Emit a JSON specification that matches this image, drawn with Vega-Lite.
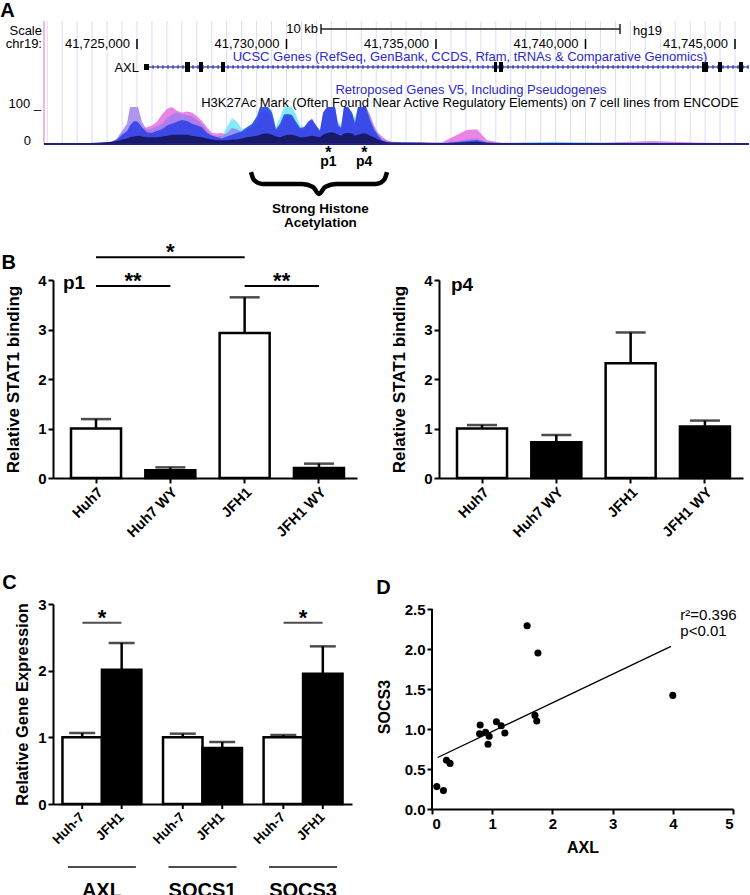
{
  "$schema": "https://vega.github.io/schema/vega-lite/v6.json",
  "background": "white",
  "padding": {"left": 0, "top": 0, "right": 0, "bottom": 0},
  "config": {
    "font": "Liberation Sans",
    "view": {"stroke": null},
    "axis": {"domainColor": "black", "domainWidth": 2, "tickColor": "black", "tickWidth": 2, "tickSize": 5, "labelColor": "black", "labelFont": "Liberation Sans", "labelFontWeight": "bold", "labelFontSize": 15, "labelPadding": 2, "titleFont": "Liberation Sans", "titleFontWeight": "bold", "titleFontSize": 17, "titleColor": "black", "grid": false},
    "title": {"font": "Liberation Sans", "fontSize": 20, "fontWeight": "bold", "anchor": "start", "color": "black", "offset": 0},
    "text": {"font": "Liberation Sans", "color": "black"}
  },
  "datasets": {
    "one": [{}],
    "sig": [
      {"p":41721890,"pk":0,"cy":0,"pu":0,"bl":1,"nv":1},
      {"p":41722492,"pk":2,"cy":1,"pu":1,"bl":1,"nv":1},
      {"p":41723161,"pk":1,"cy":0,"pu":1,"bl":1,"nv":2},
      {"p":41723829,"pk":2,"cy":1,"pu":3,"bl":3,"nv":4},
      {"p":41724164,"pk":4,"cy":2,"pu":6,"bl":6,"nv":6},
      {"p":41724331,"pk":8,"cy":3,"pu":15,"bl":12,"nv":8},
      {"p":41724498,"pk":15,"cy":5,"pu":35,"bl":25,"nv":12},
      {"p":41724666,"pk":20,"cy":8,"pu":55,"bl":35,"nv":15},
      {"p":41724766,"pk":30,"cy":10,"pu":100,"bl":50,"nv":18},
      {"p":41724900,"pk":35,"cy":10,"pu":100,"bl":62,"nv":20},
      {"p":41725033,"pk":35,"cy":12,"pu":100,"bl":60,"nv":22},
      {"p":41725167,"pk":40,"cy":12,"pu":60,"bl":45,"nv":20},
      {"p":41725334,"pk":45,"cy":15,"pu":38,"bl":32,"nv":18},
      {"p":41725502,"pk":50,"cy":15,"pu":42,"bl":30,"nv":18},
      {"p":41725669,"pk":60,"cy":18,"pu":48,"bl":35,"nv":18},
      {"p":41725836,"pk":80,"cy":20,"pu":55,"bl":40,"nv":20},
      {"p":41726003,"pk":95,"cy":22,"pu":70,"bl":50,"nv":22},
      {"p":41726171,"pk":100,"cy":25,"pu":80,"bl":55,"nv":25},
      {"p":41726338,"pk":90,"cy":25,"pu":85,"bl":60,"nv":25},
      {"p":41726505,"pk":85,"cy":30,"pu":80,"bl":65,"nv":25},
      {"p":41726672,"pk":88,"cy":28,"pu":78,"bl":62,"nv":25},
      {"p":41726839,"pk":85,"cy":25,"pu":75,"bl":55,"nv":22},
      {"p":41727007,"pk":75,"cy":22,"pu":65,"bl":50,"nv":20},
      {"p":41727174,"pk":62,"cy":20,"pu":55,"bl":45,"nv":18},
      {"p":41727341,"pk":45,"cy":15,"pu":35,"bl":30,"nv":15},
      {"p":41727508,"pk":30,"cy":12,"pu":25,"bl":22,"nv":12},
      {"p":41727676,"pk":28,"cy":12,"pu":20,"bl":18,"nv":10},
      {"p":41727843,"pk":30,"cy":20,"pu":22,"bl":15,"nv":10},
      {"p":41728010,"pk":25,"cy":45,"pu":30,"bl":20,"nv":10},
      {"p":41728177,"pk":20,"cy":70,"pu":43,"bl":25,"nv":12},
      {"p":41728345,"pk":22,"cy":60,"pu":40,"bl":30,"nv":12},
      {"p":41728512,"pk":15,"cy":40,"pu":30,"bl":35,"nv":15},
      {"p":41728679,"pk":15,"cy":45,"pu":40,"bl":45,"nv":18},
      {"p":41728846,"pk":15,"cy":55,"pu":45,"bl":54,"nv":20},
      {"p":41729013,"pk":15,"cy":75,"pu":60,"bl":75,"nv":22},
      {"p":41729114,"pk":18,"cy":100,"pu":80,"bl":100,"nv":25},
      {"p":41729248,"pk":20,"cy":100,"pu":90,"bl":100,"nv":28},
      {"p":41729381,"pk":20,"cy":100,"pu":85,"bl":100,"nv":28},
      {"p":41729515,"pk":18,"cy":90,"pu":70,"bl":85,"nv":25},
      {"p":41729649,"pk":15,"cy":45,"pu":35,"bl":40,"nv":20},
      {"p":41729783,"pk":15,"cy":70,"pu":45,"bl":55,"nv":18},
      {"p":41729916,"pk":18,"cy":100,"pu":70,"bl":80,"nv":22},
      {"p":41730050,"pk":20,"cy":100,"pu":75,"bl":81,"nv":25},
      {"p":41730184,"pk":20,"cy":100,"pu":70,"bl":78,"nv":25},
      {"p":41730318,"pk":18,"cy":80,"pu":55,"bl":60,"nv":22},
      {"p":41730452,"pk":15,"cy":50,"pu":40,"bl":43,"nv":18},
      {"p":41730585,"pk":15,"cy":45,"pu":40,"bl":45,"nv":18},
      {"p":41730719,"pk":18,"cy":55,"pu":55,"bl":60,"nv":20},
      {"p":41730853,"pk":20,"cy":60,"pu":65,"bl":68,"nv":22},
      {"p":41730987,"pk":18,"cy":50,"pu":50,"bl":50,"nv":20},
      {"p":41731120,"pk":15,"cy":40,"pu":35,"bl":35,"nv":18},
      {"p":41731221,"pk":20,"cy":70,"pu":80,"bl":85,"nv":25},
      {"p":41731355,"pk":25,"cy":100,"pu":100,"bl":100,"nv":30},
      {"p":41731488,"pk":25,"cy":100,"pu":100,"bl":100,"nv":32},
      {"p":41731622,"pk":22,"cy":100,"pu":100,"bl":100,"nv":30},
      {"p":41731722,"pk":20,"cy":60,"pu":55,"bl":50,"nv":25},
      {"p":41731823,"pk":20,"cy":50,"pu":45,"bl":43,"nv":22},
      {"p":41731923,"pk":25,"cy":100,"pu":100,"bl":100,"nv":28},
      {"p":41732057,"pk":25,"cy":100,"pu":100,"bl":100,"nv":30},
      {"p":41732191,"pk":25,"cy":85,"pu":80,"bl":85,"nv":28},
      {"p":41732291,"pk":28,"cy":70,"pu":60,"bl":55,"nv":22},
      {"p":41732391,"pk":40,"cy":100,"pu":100,"bl":100,"nv":25},
      {"p":41732525,"pk":45,"cy":100,"pu":100,"bl":100,"nv":28},
      {"p":41732659,"pk":45,"cy":100,"pu":100,"bl":100,"nv":28},
      {"p":41732793,"pk":40,"cy":70,"pu":80,"bl":65,"nv":22},
      {"p":41732926,"pk":38,"cy":45,"pu":50,"bl":40,"nv":18},
      {"p":41733060,"pk":30,"cy":25,"pu":30,"bl":22,"nv":12},
      {"p":41733194,"pk":20,"cy":12,"pu":15,"bl":10,"nv":8},
      {"p":41733361,"pk":10,"cy":6,"pu":8,"bl":5,"nv":5},
      {"p":41733528,"pk":6,"cy":4,"pu":5,"bl":4,"nv":4},
      {"p":41733863,"pk":5,"cy":3,"pu":4,"bl":4,"nv":3},
      {"p":41734532,"pk":4,"cy":3,"pu":3,"bl":3,"nv":3},
      {"p":41735201,"pk":4,"cy":3,"pu":3,"bl":2,"nv":2},
      {"p":41735702,"pk":25,"cy":5,"pu":8,"bl":5,"nv":4},
      {"p":41736037,"pk":38,"cy":6,"pu":12,"bl":8,"nv":5},
      {"p":41736371,"pk":40,"cy":8,"pu":15,"bl":10,"nv":6},
      {"p":41736706,"pk":10,"cy":4,"pu":5,"bl":4,"nv":3},
      {"p":41737207,"pk":3,"cy":2,"pu":2,"bl":2,"nv":2},
      {"p":41738880,"pk":4,"cy":6,"pu":3,"bl":2,"nv":2},
      {"p":41740552,"pk":3,"cy":3,"pu":2,"bl":2,"nv":2},
      {"p":41742224,"pk":8,"cy":3,"pu":3,"bl":2,"nv":2},
      {"p":41743896,"pk":3,"cy":2,"pu":2,"bl":2,"nv":2},
      {"p":41745468,"pk":2,"cy":2,"pu":2,"bl":2,"nv":2}
    ],
    "grid": [
      {"g":41722000},{"g":41722500},{"g":41723000},{"g":41723500},{"g":41724000},{"g":41724500},{"g":41725000},{"g":41725500},{"g":41726000},{"g":41726500},{"g":41727000},{"g":41727500},{"g":41728000},{"g":41728500},{"g":41729000},{"g":41729500},{"g":41730000},{"g":41730500},{"g":41731000},{"g":41731500},{"g":41732000},{"g":41732500},{"g":41733000},{"g":41733500},{"g":41734000},{"g":41734500},{"g":41735000},{"g":41735500},{"g":41736000},{"g":41736500},{"g":41737000},{"g":41737500},{"g":41738000},{"g":41738500},{"g":41739000},{"g":41739500},{"g":41740000},{"g":41740500},{"g":41741000},{"g":41741500},{"g":41742000},{"g":41742500},{"g":41743000},{"g":41743500},{"g":41744000},{"g":41744500},{"g":41745000}
    ]
  },
  "spacing": 10,
  "vconcat": [
    {
      "width": 696,
      "height": 210,
      "title": {"text": "A", "dx": -5.5, "offset": -0.5},
      "layer": [
        {"data": {"name": "grid"}, "mark": {"type": "rule", "color": "#dcdcf5", "strokeWidth": 1},
         "encoding": {"x": {"field": "g", "type": "quantitative", "scale": {"domain": [41722191, 41745468], "nice": false, "zero": false}, "axis": null},
                      "y": {"datum": 0, "type": "quantitative", "scale": {"domain": [-235.2, 332.4], "nice": false, "zero": false}, "axis": null},
                      "y2": {"datum": 332.4}}},
        {"data": {"name": "one"}, "mark": {"type": "rule", "color": "#f2a2c8", "strokeWidth": 1.5},
         "encoding": {"x": {"datum": 41721890, "type": "quantitative", "axis": null}, "y": {"datum": 0, "type": "quantitative", "axis": null}, "y2": {"datum": 332.4}}},
        {"data": {"name": "sig"}, "mark": {"type": "area", "color": "#e870e0", "opacity": 0.85},
         "encoding": {"x": {"field": "p", "type": "quantitative", "axis": null}, "y": {"field": "pk", "type": "quantitative", "axis": null}, "y2": {"datum": 0}}},
        {"data": {"name": "sig"}, "mark": {"type": "area", "color": "#6ee6f8", "opacity": 0.85},
         "encoding": {"x": {"field": "p", "type": "quantitative", "axis": null}, "y": {"field": "cy", "type": "quantitative", "axis": null}, "y2": {"datum": 0}}},
        {"data": {"name": "sig"}, "mark": {"type": "area", "color": "#9a7cee", "opacity": 0.8},
         "encoding": {"x": {"field": "p", "type": "quantitative", "axis": null}, "y": {"field": "pu", "type": "quantitative", "axis": null}, "y2": {"datum": 0}}},
        {"data": {"name": "sig"}, "mark": {"type": "area", "color": "#2a3ee6", "opacity": 0.85},
         "encoding": {"x": {"field": "p", "type": "quantitative", "axis": null}, "y": {"field": "bl", "type": "quantitative", "axis": null}, "y2": {"datum": 0}}},
        {"data": {"name": "sig"}, "mark": {"type": "area", "color": "#15155a", "opacity": 0.9},
         "encoding": {"x": {"field": "p", "type": "quantitative", "axis": null}, "y": {"field": "nv", "type": "quantitative", "axis": null}, "y2": {"datum": 0}}},
        {"data": {"name": "one"}, "mark": {"type": "rule", "color": "#20208a", "strokeWidth": 2},
         "encoding": {"x": {"datum": 41721890, "type": "quantitative", "axis": null}, "x2": {"datum": 41745468}, "y": {"datum": 0, "type": "quantitative", "axis": null}}},
        {"data": {"name": "one"}, "mark": {"type": "rule", "color": "#8e8ef2", "strokeWidth": 4, "strokeDash": [2, 3]},
         "encoding": {"x": {"datum": 41725334, "type": "quantitative", "axis": null}, "x2": {"datum": 41745468}, "y": {"datum": 208.1, "type": "quantitative", "axis": null}}},
        {"data": {"name": "one"}, "mark": {"type": "rule", "color": "#10107a", "strokeWidth": 1},
         "encoding": {"x": {"datum": 41725334, "type": "quantitative", "axis": null}, "x2": {"datum": 41745468}, "y": {"datum": 208.1, "type": "quantitative", "axis": null}}},
        {"data": {"name": "one"}, "mark": {"type": "rect", "color": "black"},
         "encoding": {"x": {"datum": 41725234, "type": "quantitative", "axis": null}, "x2": {"datum": 41725401}, "y": {"datum": 216.2, "type": "quantitative", "axis": null}, "y2": {"datum": 200.0}}},
        {"data": {"values": [{"s":41726605,"e":41726773},{"s":41727074,"e":41727207},{"s":41727809,"e":41727943},{"s":41736940,"e":41737040},{"s":41737107,"e":41737241},{"s":41743896,"e":41744097},{"s":41744432,"e":41744565},{"s":41745134,"e":41745268}]},
         "mark": {"type": "rect", "color": "black"},
         "encoding": {"x": {"field": "s", "type": "quantitative", "axis": null}, "x2": {"field": "e"}, "y": {"datum": 221.6, "type": "quantitative", "axis": null}, "y2": {"datum": 194.5}}},
        {"data": {"values": [{"c":41725000},{"c":41730000},{"c":41735000},{"c":41740000},{"c":41745000}]},
         "mark": {"type": "rule", "color": "black", "strokeWidth": 1.5},
         "encoding": {"x": {"field": "c", "type": "quantitative", "axis": null}, "y": {"datum": 256.7, "type": "quantitative", "axis": null}, "y2": {"datum": 283.8}}},
        {"data": {"values": [{"c":41725000},{"c":41730000},{"c":41735000},{"c":41740000},{"c":41745000}]},
         "mark": {"type": "text", "align": "right", "baseline": "middle", "dx": -7, "fontSize": 13},
         "encoding": {"x": {"field": "c", "type": "quantitative", "axis": null}, "y": {"datum": 270.2, "type": "quantitative", "axis": null}, "text": {"field": "c", "type": "quantitative", "format": ","}}},
        {"data": {"name": "one"}, "mark": {"type": "rule", "color": "#222222", "strokeWidth": 1.5},
         "encoding": {"x": {"datum": 41731154, "type": "quantitative", "axis": null}, "x2": {"datum": 41741154}, "y": {"datum": 310.8, "type": "quantitative", "axis": null}}},
        {"data": {"values": [{"e":41731154},{"e":41741154}]},
         "mark": {"type": "rule", "color": "#222222", "strokeWidth": 1.5},
         "encoding": {"x": {"field": "e", "type": "quantitative", "axis": null}, "y": {"datum": 297.3, "type": "quantitative", "axis": null}, "y2": {"datum": 324.3}}},
        {"data": {"name": "one"}, "mark": {"type": "text", "text": "Scale", "align": "right", "baseline": "middle", "fontSize": 13},
         "encoding": {"x": {"datum": 41721823, "type": "quantitative", "axis": null}, "y": {"datum": 305.4, "type": "quantitative", "axis": null}}},
        {"data": {"name": "one"}, "mark": {"type": "text", "text": "chr19:", "align": "right", "baseline": "middle", "fontSize": 13},
         "encoding": {"x": {"datum": 41721823, "type": "quantitative", "axis": null}, "y": {"datum": 270.2, "type": "quantitative", "axis": null}}},
        {"data": {"name": "one"}, "mark": {"type": "text", "text": "10 kb", "align": "right", "baseline": "middle", "fontSize": 13, "dx": -3},
         "encoding": {"x": {"datum": 41731154, "type": "quantitative", "axis": null}, "y": {"datum": 310.8, "type": "quantitative", "axis": null}}},
        {"data": {"name": "one"}, "mark": {"type": "text", "text": "hg19", "align": "left", "baseline": "middle", "fontSize": 13},
         "encoding": {"x": {"datum": 41741589, "type": "quantitative", "axis": null}, "y": {"datum": 305.4, "type": "quantitative", "axis": null}}},
        {"data": {"name": "one"}, "mark": {"type": "text", "text": "UCSC Genes (RefSeq, GenBank, CCDS, Rfam, tRNAs & Comparative Genomics)", "align": "center", "baseline": "middle", "fontSize": 13, "color": "#2b2bc9"},
         "encoding": {"x": {"datum": 41736137, "type": "quantitative", "axis": null}, "y": {"datum": 235.1, "type": "quantitative", "axis": null}}},
        {"data": {"name": "one"}, "mark": {"type": "text", "text": "AXL", "align": "right", "baseline": "middle", "fontSize": 13},
         "encoding": {"x": {"datum": 41725067, "type": "quantitative", "axis": null}, "y": {"datum": 205.4, "type": "quantitative", "axis": null}}},
        {"data": {"name": "one"}, "mark": {"type": "text", "text": "Retroposed Genes V5, Including Pseudogenes", "align": "center", "baseline": "middle", "fontSize": 13, "color": "#2b2bc9"},
         "encoding": {"x": {"datum": 41736170, "type": "quantitative", "axis": null}, "y": {"datum": 145.9, "type": "quantitative", "axis": null}}},
        {"data": {"name": "one"}, "mark": {"type": "text", "text": "H3K27Ac Mark (Often Found Near Active Regulatory Elements) on 7 cell lines from ENCODE", "align": "center", "baseline": "middle", "fontSize": 13},
         "encoding": {"x": {"datum": 41736137, "type": "quantitative", "axis": null}, "y": {"datum": 110.7, "type": "quantitative", "axis": null}}},
        {"data": {"name": "one"}, "mark": {"type": "text", "text": "100 _", "align": "right", "baseline": "middle", "fontSize": 13},
         "encoding": {"x": {"datum": 41721790, "type": "quantitative", "axis": null}, "y": {"datum": 108, "type": "quantitative", "axis": null}}},
        {"data": {"name": "one"}, "mark": {"type": "text", "text": "0", "align": "right", "baseline": "middle", "fontSize": 13},
         "encoding": {"x": {"datum": 41721455, "type": "quantitative", "axis": null}, "y": {"datum": 8.1, "type": "quantitative", "axis": null}}},
        {"data": {"values": [{"probe":"p1","pos":41731400},{"probe":"p4","pos":41732600}]},
         "mark": {"type": "text", "text": "*", "align": "center", "baseline": "alphabetic", "fontSize": 16, "fontWeight": "bold"},
         "encoding": {"x": {"field": "pos", "type": "quantitative", "axis": null}, "y": {"datum": -37, "type": "quantitative", "axis": null}}},
        {"data": {"values": [{"probe":"p1","pos":41731400},{"probe":"p4","pos":41732600}]},
         "mark": {"type": "text", "align": "center", "baseline": "alphabetic", "fontSize": 14, "fontWeight": "bold"},
         "encoding": {"x": {"field": "pos", "type": "quantitative", "axis": null}, "y": {"datum": -59.5, "type": "quantitative", "axis": null}, "text": {"field": "probe"}}},
        {"data": {"values": [{"bx":41728813,"by":-75.8},{"bx":41728913,"by":-97.4},{"bx":41729181,"by":-108.2},{"bx":41730519,"by":-108.2},{"bx":41730886,"by":-116.3},{"bx":41731087,"by":-135.2},{"bx":41731288,"by":-116.3},{"bx":41731656,"by":-108.2},{"bx":41732993,"by":-108.2},{"bx":41733261,"by":-97.4},{"bx":41733362,"by":-75.8}]},
         "mark": {"type": "line", "color": "black", "strokeWidth": 4.5, "interpolate": "monotone"},
         "encoding": {"x": {"field": "bx", "type": "quantitative", "axis": null}, "y": {"field": "by", "type": "quantitative", "axis": null}}},
        {"data": {"name": "one"}, "mark": {"type": "text", "text": "Strong Histone", "align": "center", "baseline": "middle", "fontSize": 13.5, "fontWeight": "bold"},
         "encoding": {"x": {"datum": 41731137, "type": "quantitative", "axis": null}, "y": {"datum": -175.8, "type": "quantitative", "axis": null}}},
        {"data": {"name": "one"}, "mark": {"type": "text", "text": "Acetylation", "align": "center", "baseline": "middle", "fontSize": 13.5, "fontWeight": "bold"},
         "encoding": {"x": {"datum": 41731137, "type": "quantitative", "axis": null}, "y": {"datum": -213.6, "type": "quantitative", "axis": null}}}
      ]
    },
    {
      "spacing": 33,
      "vconcat": [
        {
          "spacing": 33,
          "hconcat": [
            {
              "width": 304,
              "height": 198,
              "title": {"text": "B", "dx": -3.5, "dy": 36},
              "data": {"values": [
                {"sample": "Huh7", "wy": "no", "mean": 1.0, "upper": 1.19},
                {"sample": "Huh7 WY", "wy": "yes", "mean": 0.155, "upper": 0.215},
                {"sample": "JFH1", "wy": "no", "mean": 2.93, "upper": 3.65},
                {"sample": "JFH1 WY", "wy": "yes", "mean": 0.2, "upper": 0.29}
              ]},
              "layer": [
                {"mark": {"type": "rule", "color": "black", "strokeWidth": 2.5},
                 "encoding": {"x": {"field": "sample", "type": "nominal", "scale": {"domain": ["Huh7", "Huh7 WY", "JFH1", "JFH1 WY"], "paddingInner": 0.327, "paddingOuter": 0.209, "align": 0.58}, "axis": {"title": null, "labelAngle": -45, "labelFontSize": 14.5}},
                              "y": {"field": "mean", "type": "quantitative", "scale": {"domain": [0, 4], "nice": false}, "axis": {"values": [0, 1, 2, 3, 4], "format": "d", "title": "Relative STAT1 binding", "titlePadding": 14.7}},
                              "y2": {"field": "upper"}}},
                {"mark": {"type": "bar", "stroke": "black", "strokeWidth": 2.5},
                 "encoding": {"x": {"field": "sample", "type": "nominal"}, "y": {"field": "mean", "type": "quantitative"},
                              "fill": {"field": "wy", "type": "nominal", "scale": {"domain": ["no", "yes"], "range": ["white", "black"]}, "legend": null}}},
                {"mark": {"type": "tick", "color": "black", "thickness": 2.5, "size": 30},
                 "encoding": {"x": {"field": "sample", "type": "nominal"}, "y": {"field": "upper", "type": "quantitative"}}},
                {"data": {"name": "one"}, "mark": {"type": "rule", "color": "black", "strokeWidth": 2},
                 "encoding": {"x": {"datum": "Huh7"}, "x2": {"datum": "JFH1"}, "y": {"datum": 4.46}}},
                {"data": {"name": "one"}, "mark": {"type": "text", "text": "*", "fontSize": 22, "fontWeight": "bold", "baseline": "alphabetic", "dy": 2},
                 "encoding": {"x": {"datum": "Huh7 WY"}, "y": {"datum": 4.46}}},
                {"data": {"name": "one"}, "mark": {"type": "rule", "color": "black", "strokeWidth": 2},
                 "encoding": {"x": {"datum": "Huh7"}, "x2": {"datum": "Huh7 WY"}, "y": {"datum": 3.88}}},
                {"data": {"name": "one"}, "mark": {"type": "text", "text": "**", "fontSize": 22, "fontWeight": "bold", "baseline": "alphabetic", "dy": 2, "dx": 37},
                 "encoding": {"x": {"datum": "Huh7"}, "y": {"datum": 3.88}}},
                {"data": {"name": "one"}, "mark": {"type": "rule", "color": "black", "strokeWidth": 2},
                 "encoding": {"x": {"datum": "JFH1"}, "x2": {"datum": "JFH1 WY"}, "y": {"datum": 3.88}}},
                {"data": {"name": "one"}, "mark": {"type": "text", "text": "**", "fontSize": 22, "fontWeight": "bold", "baseline": "alphabetic", "dy": 2, "dx": 37},
                 "encoding": {"x": {"datum": "JFH1"}, "y": {"datum": 3.88}}},
                {"data": {"name": "one"}, "mark": {"type": "text", "text": "p1", "fontSize": 19, "fontWeight": "bold", "align": "left", "baseline": "alphabetic", "dx": -8},
                 "encoding": {"x": {"datum": "Huh7", "bandPosition": 0}, "y": {"datum": 3.82}}}
              ]
            },
            {
              "width": 304,
              "height": 198,
              "data": {"values": [
                {"sample": "Huh7", "wy": "no", "mean": 1.0, "upper": 1.07},
                {"sample": "Huh7 WY", "wy": "yes", "mean": 0.72, "upper": 0.87},
                {"sample": "JFH1", "wy": "no", "mean": 2.32, "upper": 2.94},
                {"sample": "JFH1 WY", "wy": "yes", "mean": 1.04, "upper": 1.16}
              ]},
              "layer": [
                {"mark": {"type": "rule", "color": "black", "strokeWidth": 2.5},
                 "encoding": {"x": {"field": "sample", "type": "nominal", "scale": {"domain": ["Huh7", "Huh7 WY", "JFH1", "JFH1 WY"], "paddingInner": 0.327, "paddingOuter": 0.209, "align": 0.58}, "axis": {"title": null, "labelAngle": -45, "labelFontSize": 14.5}},
                              "y": {"field": "mean", "type": "quantitative", "scale": {"domain": [0, 4], "nice": false}, "axis": {"values": [0, 1, 2, 3, 4], "format": "d", "title": "Relative STAT1 binding", "titlePadding": 14.7}},
                              "y2": {"field": "upper"}}},
                {"mark": {"type": "bar", "stroke": "black", "strokeWidth": 2.5},
                 "encoding": {"x": {"field": "sample", "type": "nominal"}, "y": {"field": "mean", "type": "quantitative"},
                              "fill": {"field": "wy", "type": "nominal", "scale": {"domain": ["no", "yes"], "range": ["white", "black"]}, "legend": null}}},
                {"mark": {"type": "tick", "color": "black", "thickness": 2.5, "size": 30},
                 "encoding": {"x": {"field": "sample", "type": "nominal"}, "y": {"field": "upper", "type": "quantitative"}}},
                {"data": {"name": "one"}, "mark": {"type": "text", "text": "p4", "fontSize": 19, "fontWeight": "bold", "align": "left", "baseline": "alphabetic", "dx": -6},
                 "encoding": {"x": {"datum": "Huh7", "bandPosition": 0}, "y": {"datum": 3.78}}}
              ]
            }
          ]
        },
        {
          "spacing": 24,
          "hconcat": [
            {
              "width": 299,
              "height": 200,
              "title": {"text": "C", "dx": -12.5, "offset": 4},
              "data": {"values": [
                {"gene": "AXL", "cell": "Huh-7", "mean": 1.0, "upper": 1.065},
                {"gene": "AXL", "cell": "JFH1", "mean": 2.015, "upper": 2.415},
                {"gene": "SOCS1", "cell": "Huh-7", "mean": 1.0, "upper": 1.055},
                {"gene": "SOCS1", "cell": "JFH1", "mean": 0.84, "upper": 0.93},
                {"gene": "SOCS3", "cell": "Huh-7", "mean": 1.0, "upper": 1.035},
                {"gene": "SOCS3", "cell": "JFH1", "mean": 1.955, "upper": 2.365}
              ]},
              "layer": [
                {"mark": {"type": "rule", "color": "black", "strokeWidth": 2.5},
                 "encoding": {"x": {"field": "gene", "type": "nominal", "scale": {"domain": ["AXL", "SOCS1", "SOCS3"], "paddingInner": 0.215, "paddingOuter": 0.094}, "axis": {"title": null, "labels": false, "ticks": false}},
                              "xOffset": {"field": "cell", "type": "nominal", "scale": {"domain": ["Huh-7", "JFH1"], "paddingInner": 0, "paddingOuter": 0}},
                              "y": {"field": "mean", "type": "quantitative", "scale": {"domain": [0, 3], "nice": false}, "axis": {"values": [0, 1, 2, 3], "format": "d", "title": "Relative Gene Expression", "titlePadding": 7, "titleFontSize": 16.5}},
                              "y2": {"field": "upper"}}},
                {"mark": {"type": "bar", "stroke": "black", "strokeWidth": 2.5},
                 "encoding": {"x": {"field": "gene", "type": "nominal"}, "xOffset": {"field": "cell", "type": "nominal"}, "y": {"field": "mean", "type": "quantitative"},
                              "fill": {"field": "cell", "type": "nominal", "scale": {"domain": ["Huh-7", "JFH1"], "range": ["white", "black"]}, "legend": null}}},
                {"mark": {"type": "tick", "color": "black", "thickness": 2.5, "size": 26},
                 "encoding": {"x": {"field": "gene", "type": "nominal"}, "xOffset": {"field": "cell", "type": "nominal"}, "y": {"field": "upper", "type": "quantitative"}}},
                {"mark": {"type": "rule", "color": "black", "strokeWidth": 2},
                 "encoding": {"x": {"field": "gene", "type": "nominal"}, "xOffset": {"field": "cell", "type": "nominal"}, "y": {"datum": 0}, "y2": {"datum": -0.075}}},
                {"mark": {"type": "text", "angle": -45, "align": "right", "baseline": "middle", "fontSize": 13.5, "fontWeight": "bold"},
                 "encoding": {"x": {"field": "gene", "type": "nominal"}, "xOffset": {"field": "cell", "type": "nominal"}, "y": {"datum": -0.165}, "text": {"field": "cell"}}},
                {"data": {"values": [{"gene": "AXL"}, {"gene": "SOCS3"}]},
                 "mark": {"type": "tick", "color": "black", "thickness": 2, "size": 39},
                 "encoding": {"x": {"field": "gene", "type": "nominal"}, "y": {"datum": 2.72}}},
                {"data": {"values": [{"gene": "AXL"}, {"gene": "SOCS3"}]},
                 "mark": {"type": "text", "text": "*", "fontSize": 22, "fontWeight": "bold", "baseline": "alphabetic", "dy": 2},
                 "encoding": {"x": {"field": "gene", "type": "nominal"}, "y": {"datum": 2.72}}},
                {"data": {"values": [{"gene": "AXL"}, {"gene": "SOCS1"}, {"gene": "SOCS3"}]},
                 "mark": {"type": "tick", "color": "black", "thickness": 2, "size": 68},
                 "encoding": {"x": {"field": "gene", "type": "nominal"}, "y": {"datum": -0.945}}},
                {"data": {"values": [{"gene": "AXL"}, {"gene": "SOCS1"}, {"gene": "SOCS3"}]},
                 "mark": {"type": "text", "fontSize": 20, "fontWeight": "bold", "baseline": "middle"},
                 "encoding": {"x": {"field": "gene", "type": "nominal"}, "y": {"datum": -1.3}, "text": {"field": "gene"}}}
              ]
            },
            {
              "width": 301,
              "height": 205,
              "title": {"text": "D", "offset": 4},
              "layer": [
                {"data": {"name": "one"}, "mark": {"type": "rule", "color": "black", "strokeWidth": 2},
                 "encoding": {"x": {"datum": 0, "type": "quantitative", "scale": {"domain": [0, 5], "nice": false, "zero": false}, "axis": {"values": [0, 1, 2, 3, 4, 5], "format": "d", "title": "AXL", "titlePadding": 8, "titleFontSize": 16}},
                              "y": {"datum": 0, "type": "quantitative", "scale": {"domain": [0, 2.5625], "nice": false}, "axis": {"values": [0, 0.5, 1, 1.5, 2, 2.5], "format": ".1f", "title": "SOCS3", "titlePadding": 12, "titleFontSize": 16, "domain": false}},
                              "y2": {"datum": 2.5}}},
                {"data": {"values": [{"axl": 0.094, "socs3": 0.644}, {"axl": 3.97, "socs3": 2.032}]},
                 "mark": {"type": "line", "color": "black", "strokeWidth": 1.3},
                 "encoding": {"x": {"field": "axl", "type": "quantitative"}, "y": {"field": "socs3", "type": "quantitative"}}},
                {"data": {"values": [
                  {"axl": 0.08, "socs3": 0.28}, {"axl": 0.19, "socs3": 0.23}, {"axl": 0.24, "socs3": 0.61}, {"axl": 0.30, "socs3": 0.57},
                  {"axl": 0.80, "socs3": 1.05}, {"axl": 0.79, "socs3": 0.94}, {"axl": 0.89, "socs3": 0.96}, {"axl": 0.95, "socs3": 0.91},
                  {"axl": 0.93, "socs3": 0.81}, {"axl": 1.07, "socs3": 1.09}, {"axl": 1.15, "socs3": 1.04}, {"axl": 1.21, "socs3": 0.95},
                  {"axl": 1.58, "socs3": 2.29}, {"axl": 1.76, "socs3": 1.95}, {"axl": 1.71, "socs3": 1.17}, {"axl": 1.74, "socs3": 1.10},
                  {"axl": 4.00, "socs3": 1.42}
                ]},
                 "mark": {"type": "circle", "color": "black", "size": 50, "opacity": 1},
                 "encoding": {"x": {"field": "axl", "type": "quantitative"}, "y": {"field": "socs3", "type": "quantitative"}}},
                {"data": {"name": "one"}, "mark": {"type": "text", "text": "r²=0.396", "align": "left", "baseline": "middle", "fontSize": 15},
                 "encoding": {"x": {"datum": 4.125}, "y": {"datum": 2.43}}},
                {"data": {"name": "one"}, "mark": {"type": "text", "text": "p<0.01", "align": "left", "baseline": "middle", "fontSize": 15},
                 "encoding": {"x": {"datum": 4.125}, "y": {"datum": 2.23}}}
              ]
            }
          ]
        }
      ]
    }
  ]
}
